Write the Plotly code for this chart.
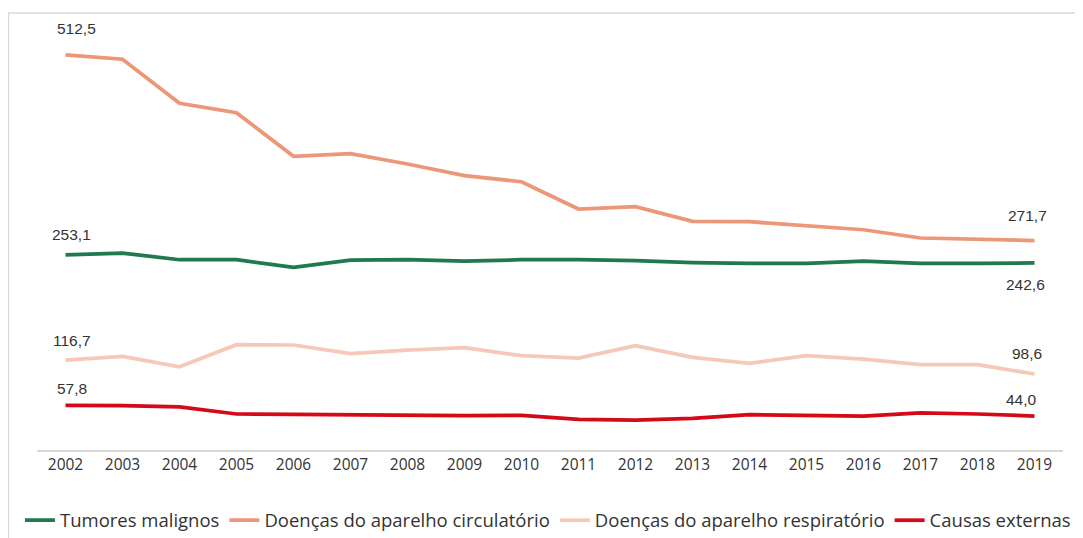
import plotly.graph_objects as go

years = list(range(2002, 2020))

tumores = [253.1, 255.5, 246.8, 246.8, 237.0, 246.4, 246.8, 245.1, 246.8, 246.8,
           245.5, 243.0, 242.0, 242.0, 245.0, 242.0, 242.0, 242.6]
circulatorio = [512.5, 506.9, 449.7, 437.5, 380.9, 384.3, 371.0, 355.8, 348.0, 312.6,
                315.6, 296.6, 296.1, 291.0, 285.7, 275.0, 273.6, 271.7]
respiratorio = [116.7, 121.5, 108.0, 136.6, 136.2, 125.0, 129.7, 132.7, 122.3, 119.3,
                135.3, 120.2, 112.4, 122.3, 118.0, 110.6, 110.6, 98.6]
externas = [57.8, 57.5, 55.8, 46.7, 46.3, 45.4, 45.4, 44.5, 45.0, 39.8,
            38.9, 41.1, 45.8, 45.4, 44.1, 48.0, 46.7, 44.0]

series = [
    ("Tumores malignos", tumores, "#1f7a4f"),
    ("Doenças do aparelho circulatório", circulatorio, "#ec9777"),
    ("Doenças do aparelho respiratório", respiratorio, "#f6c8b7"),
    ("Causas externas", externas, "#d40a19"),
]

fig = go.Figure()
for name, vals, col in series:
    fig.add_trace(go.Scatter(x=years, y=vals, name=name, mode="lines",
                             line=dict(color=col, width=3.75)))

def fmt(v):
    return f"{v:.1f}".replace(".", ",")

label_font = dict(family="Liberation Sans, Arial, sans-serif", size=15.5, color="#333333")
# (series values, index, yshift, xshift)
labels = [
    (circulatorio, 0, 26.5, 11), (tumores, 0, 20, 6), (respiratorio, 0, 20, 6), (externas, 0, 17, 6),
    (circulatorio, 17, 25, -7.5), (tumores, 17, -22, -9), (respiratorio, 17, 20, -7.5), (externas, 17, 17, -13),
]
for vals, i, ys, xs in labels:
    fig.add_annotation(x=years[i], y=vals[i], text=fmt(vals[i]), showarrow=False,
                       yshift=ys, xshift=xs, font=label_font)

fig.add_shape(type="rect", xref="paper", yref="paper",
              x0=-0.0278, x1=1.0166, y0=-0.3, y1=1.0307,
              line=dict(color="#d9d9d9", width=1.5), fillcolor="rgba(0,0,0,0)", layer="below")

tick_font = dict(family="Open Sans, sans-serif", size=15.5, color="#333333")
fig.update_layout(
    width=1075, height=530,
    margin=dict(l=29, r=20, t=18, b=88, autoexpand=False),
    paper_bgcolor="white", plot_bgcolor="white",
    showlegend=True,
    legend=dict(orientation="h", x=-0.0166, xanchor="left", y=-0.1667, yanchor="middle",
                font=dict(family="Open Sans, sans-serif", size=18.5, color="#333333"),
                itemwidth=30, tracegroupgap=0, bgcolor="rgba(0,0,0,0)"),
    xaxis=dict(range=[2001.5, 2019.5], tickmode="array", tickvals=years,
               ticktext=[str(y) for y in years],
               showgrid=False, zeroline=False, showline=True, linecolor="#d9d9d9", linewidth=1.5,
               ticks="", tickfont=tick_font, fixedrange=True, automargin=False),
    yaxis=dict(range=[0, 550], visible=False, showgrid=False, zeroline=False, fixedrange=True,
               automargin=False),
)

fig.write_html("out.html")
